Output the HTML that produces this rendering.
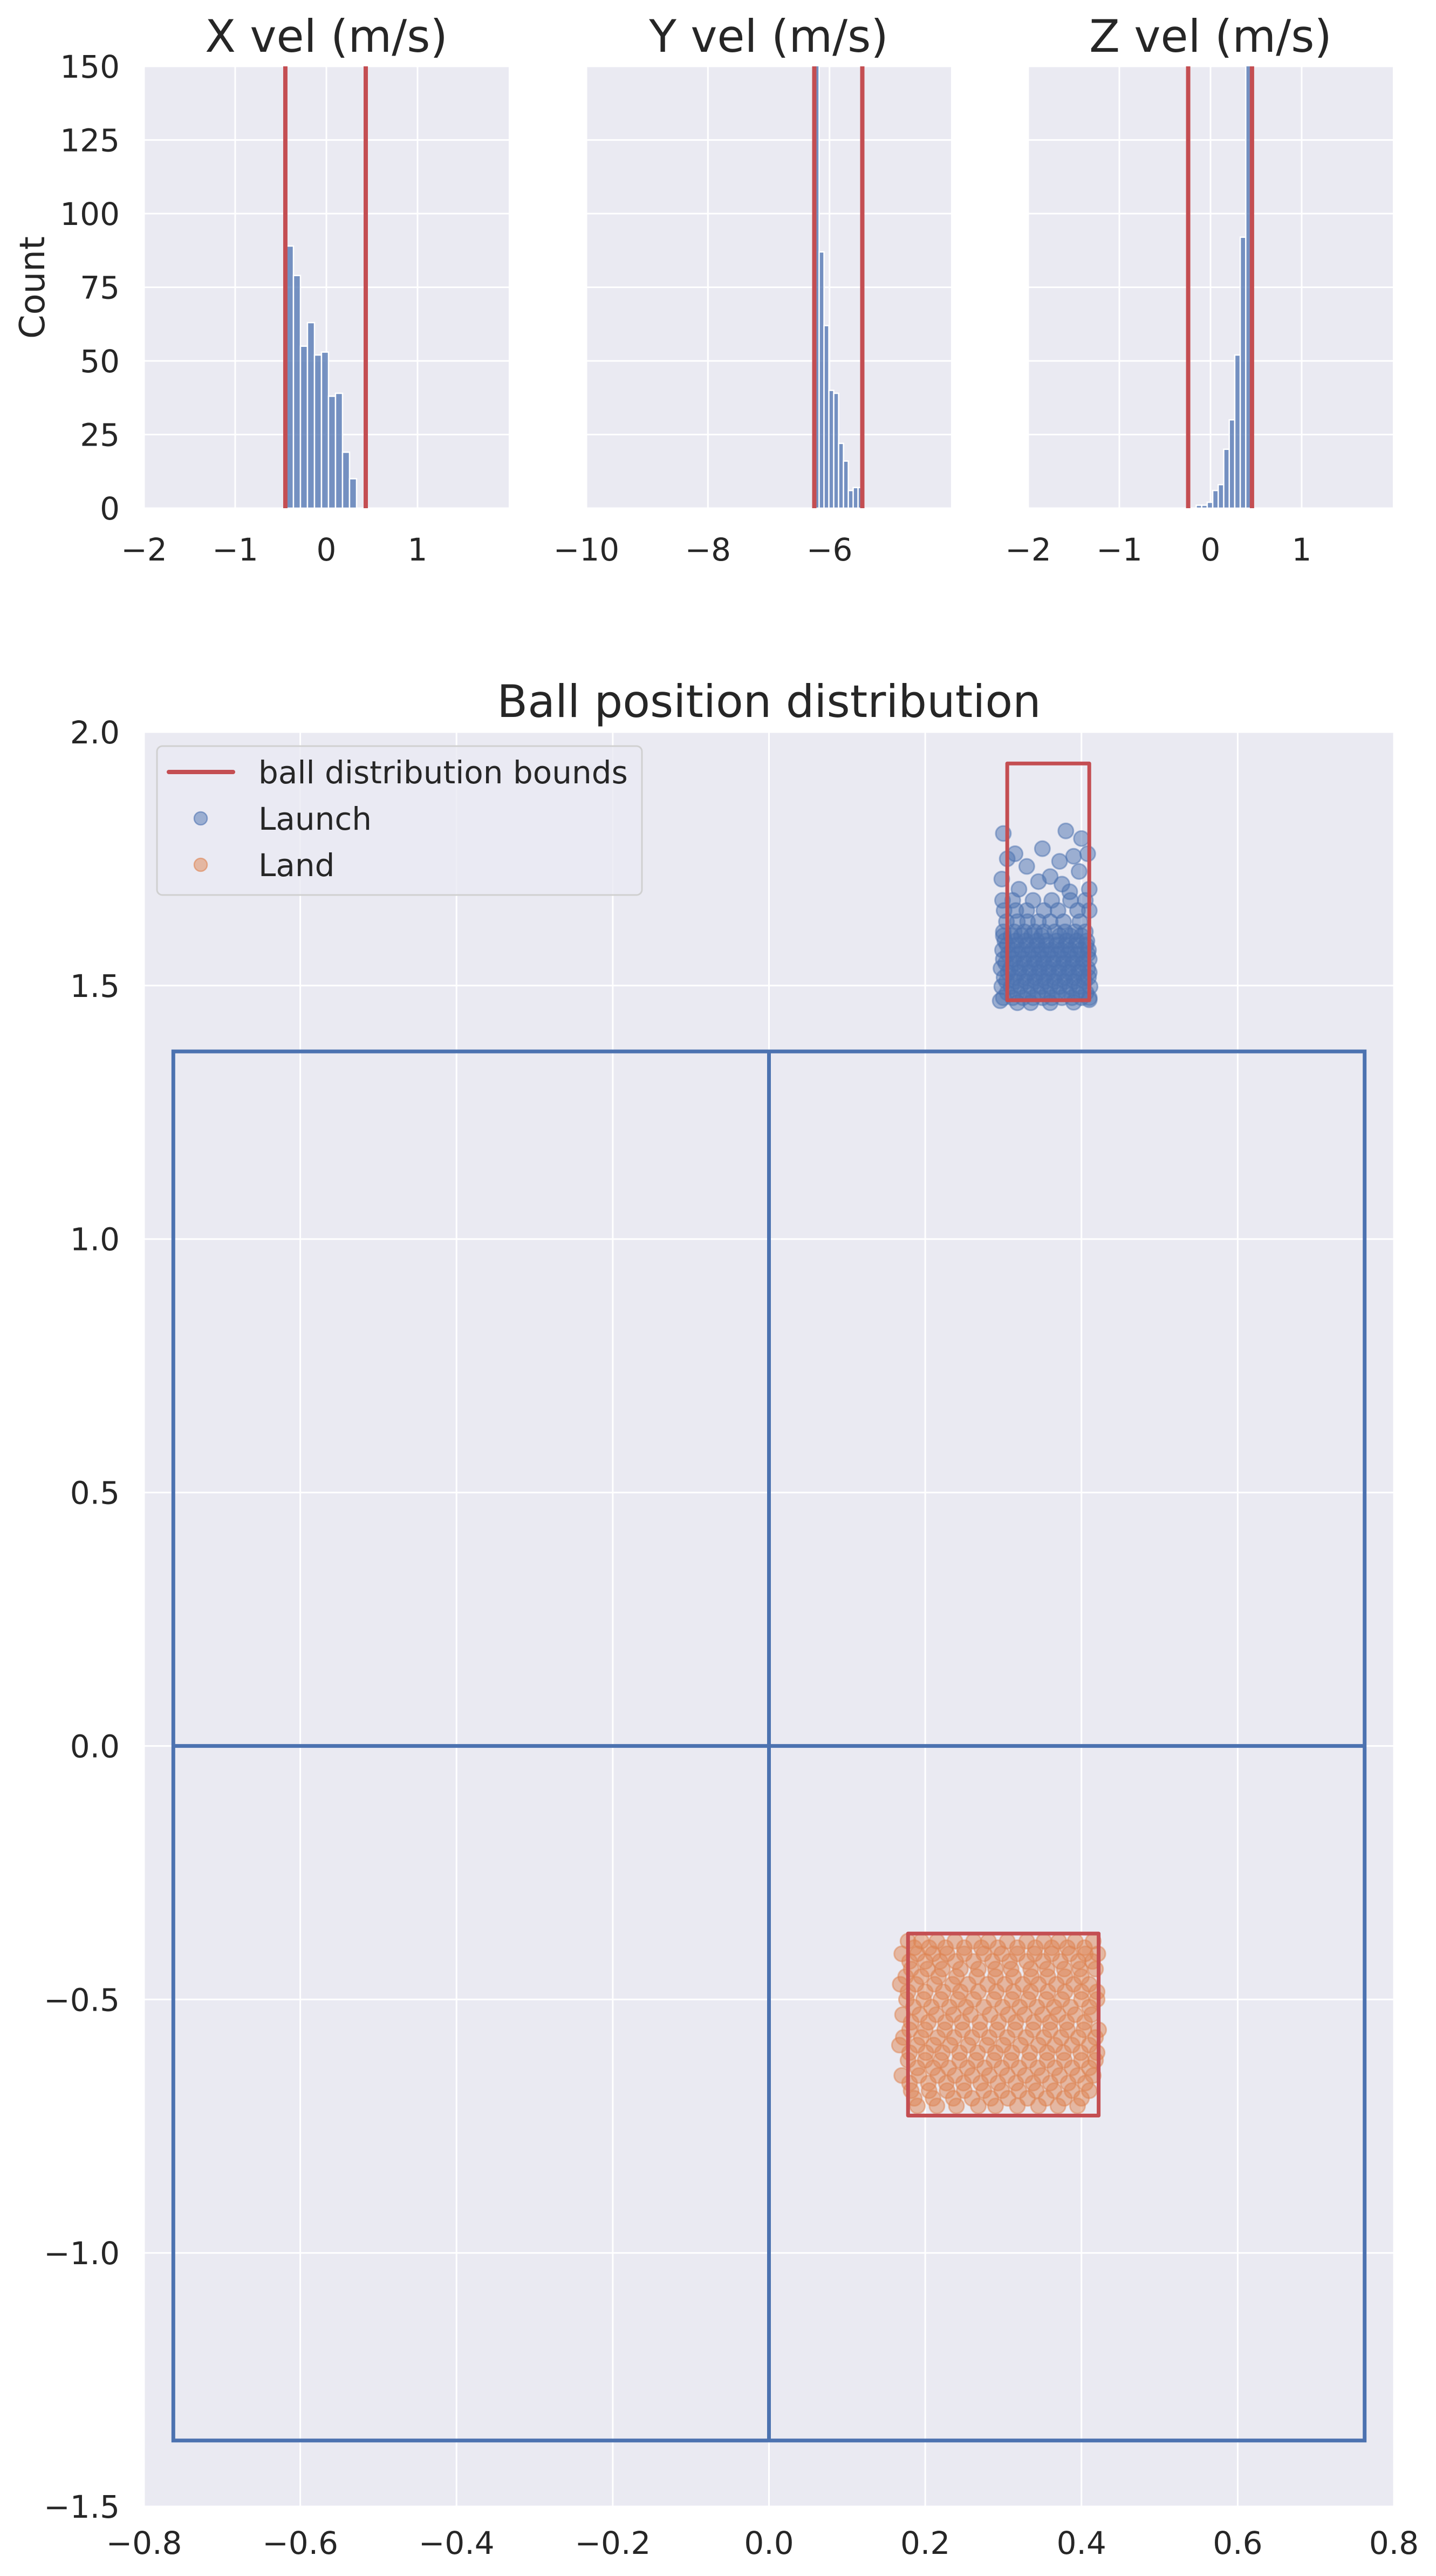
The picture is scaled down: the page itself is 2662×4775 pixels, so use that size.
<!DOCTYPE html>
<html><head><meta charset="utf-8"><style>
html,body{margin:0;padding:0;background:#fff;}
svg{display:block;font-family:"DejaVu Sans","Liberation Sans",sans-serif;}
</style></head><body>
<svg id="fig" width="2662" height="4775" viewBox="0 0 2662 4775" xmlns="http://www.w3.org/2000/svg"></svg>
<script>
// ---- histogram data ----
const xvelBinStart = -0.438, xvelBinWidth = 0.0769;
const xvelCounts = [89, 79, 55, 63, 52, 53, 38, 39, 19, 10];
const xvelBounds = [-0.45, 0.432];
const yvelBinStart = -6.25, yvelBinWidth = 0.08;
const yvelCounts = [155, 87, 62, 40, 39, 22, 16, 6, 7, 7];
const yvelBounds = [-6.25, -5.46];
const zvelBinStart = -0.157, zvelBinWidth = 0.0604;
const zvelCounts = [1, 1, 2, 6, 8, 20, 30, 52, 92, 160];
const zvelBounds = [-0.245, 0.455];
const histTitles = ["X vel (m/s)", "Y vel (m/s)", "Z vel (m/s)"];
const histXTicks = [[-2, -1, 0, 1], [-10, -8, -6], [-2, -1, 0, 1]];
const histYTicks = [0, 25, 50, 75, 100, 125, 150];
// ---- position data ----
const mainXTicks = [-0.8, -0.6, -0.4, -0.2, 0.0, 0.2, 0.4, 0.6, 0.8];
const mainYTicks = [-1.5, -1.0, -0.5, 0.0, 0.5, 1.0, 1.5, 2.0];
const tableHalfW = 0.7625, tableHalfL = 1.37;
const launchBounds = [0.305, 0.41, 1.471, 1.938];
const landBounds = [0.178, 0.422, -0.37, -0.729];
const launchRowY = [1.476, 1.486, 1.498, 1.508, 1.516, 1.526, 1.534, 1.544, 1.552, 1.562, 1.57, 1.58, 1.588, 1.598, 1.606, 1.626, 1.648, 1.668];
const launchRowX = [
 [0.300,0.312,0.325,0.338,0.350,0.362,0.375,0.388,0.400,0.410],
 [0.305,0.318,0.331,0.344,0.356,0.369,0.381,0.394,0.406],
 [0.298,0.310,0.322,0.335,0.348,0.360,0.372,0.385,0.397,0.411],
 [0.304,0.316,0.329,0.341,0.354,0.366,0.379,0.391,0.404],
 [0.301,0.314,0.327,0.340,0.352,0.365,0.378,0.390,0.403,0.409],
 [0.306,0.320,0.333,0.346,0.358,0.371,0.384,0.397,0.410],
 [0.297,0.309,0.321,0.334,0.346,0.358,0.371,0.383,0.396,0.408],
 [0.303,0.315,0.327,0.340,0.352,0.364,0.377,0.389,0.402],
 [0.300,0.313,0.326,0.339,0.351,0.364,0.377,0.389,0.402,0.410],
 [0.306,0.319,0.332,0.345,0.357,0.370,0.383,0.395,0.408],
 [0.299,0.311,0.324,0.337,0.349,0.361,0.374,0.386,0.399,0.409],
 [0.305,0.317,0.330,0.343,0.355,0.368,0.380,0.393,0.406],
 [0.302,0.316,0.329,0.343,0.355,0.368,0.381,0.394,0.407],
 [0.300,0.310,0.323,0.336,0.349,0.372,0.386,0.400],
 [0.300,0.314,0.327,0.340,0.352,0.366,0.379,0.392,0.405],
 [0.304,0.318,0.331,0.345,0.360,0.377,0.398],
 [0.301,0.316,0.330,0.352,0.370,0.395,0.41],
 [0.299,0.312,0.338,0.362,0.386,0.405]
];
const launchSparse = [[0.30,1.80],[0.38,1.805],[0.40,1.79],[0.305,1.75],[0.315,1.76],[0.35,1.77],[0.372,1.745],[0.39,1.755],[0.408,1.76],[0.298,1.71],[0.33,1.735],[0.36,1.715],[0.375,1.70],[0.397,1.725],[0.41,1.69],[0.32,1.69],[0.345,1.705],[0.385,1.685],[0.296,1.47],[0.36,1.466],[0.41,1.472],[0.335,1.466],[0.318,1.466],[0.39,1.467]];
const landRowY = [-0.385, -0.398, -0.41, -0.425, -0.44, -0.455, -0.47, -0.485, -0.50, -0.515, -0.53, -0.545, -0.56, -0.575, -0.59, -0.605, -0.62, -0.635, -0.65, -0.665, -0.68, -0.695, -0.71];
const landRowX = [
 [0.178,0.195,0.215,0.238,0.262,0.281,0.305,0.33,0.352,0.371,0.392,0.415],
 [0.186,0.205,0.226,0.25,0.272,0.293,0.318,0.341,0.362,0.382,0.404],
 [0.170,0.19,0.21,0.228,0.25,0.275,0.298,0.318,0.34,0.362,0.385,0.405,0.421],
 [0.18,0.2,0.219,0.239,0.262,0.286,0.308,0.33,0.351,0.373,0.396,0.414],
 [0.182,0.203,0.222,0.245,0.268,0.29,0.31,0.335,0.356,0.378,0.398,0.418],
 [0.175,0.195,0.217,0.24,0.266,0.29,0.313,0.336,0.357,0.379,0.4],
 [0.168,0.188,0.212,0.235,0.255,0.28,0.302,0.325,0.345,0.368,0.39,0.41],
 [0.178,0.2,0.223,0.245,0.268,0.291,0.313,0.335,0.357,0.379,0.4,0.42],
 [0.176,0.198,0.22,0.242,0.262,0.288,0.311,0.332,0.355,0.375,0.4,0.42],
 [0.185,0.208,0.231,0.252,0.275,0.299,0.321,0.343,0.365,0.386,0.41],
 [0.171,0.193,0.214,0.236,0.258,0.283,0.306,0.327,0.35,0.37,0.392,0.413],
 [0.182,0.204,0.226,0.247,0.27,0.294,0.316,0.339,0.36,0.381,0.404],
 [0.18,0.2,0.225,0.248,0.27,0.292,0.315,0.338,0.36,0.382,0.403,0.422],
 [0.172,0.195,0.216,0.237,0.26,0.282,0.305,0.329,0.352,0.374,0.396,0.418],
 [0.167,0.19,0.211,0.232,0.255,0.279,0.3,0.322,0.345,0.366,0.388,0.41],
 [0.18,0.201,0.222,0.244,0.267,0.29,0.311,0.334,0.356,0.377,0.399,0.42],
 [0.178,0.2,0.22,0.244,0.265,0.288,0.31,0.333,0.356,0.378,0.4,0.418],
 [0.19,0.21,0.23,0.254,0.276,0.298,0.32,0.344,0.366,0.388,0.41],
 [0.17,0.192,0.216,0.238,0.26,0.282,0.305,0.328,0.349,0.372,0.395,0.415],
 [0.18,0.204,0.227,0.249,0.271,0.293,0.316,0.338,0.36,0.383,0.405],
 [0.182,0.205,0.228,0.25,0.275,0.298,0.32,0.342,0.365,0.388,0.41],
 [0.186,0.21,0.236,0.26,0.284,0.306,0.331,0.355,0.378,0.4],
 [0.19,0.215,0.24,0.268,0.29,0.318,0.345,0.37,0.395]
];

const NS = "http://www.w3.org/2000/svg";
const svg = document.getElementById("fig");
function mk(tag, attrs, parent) {
  const e = document.createElementNS(NS, tag);
  for (const k in attrs) e.setAttribute(k, attrs[k]);
  (parent || svg).appendChild(e);
  return e;
}
function fmt(v, d) { const s = v.toFixed(d); return s.replace("-", "\u2212"); }

// ---- histograms ----
const panelLeft = [267, 1087, 1906], panelW = 676, hTop = 123, hBot = 942;
const xlims = [[-2, 2], [-10, -4.0], [-2, 2]];
const binStarts = [xvelBinStart, yvelBinStart, zvelBinStart];
const binWidths = [xvelBinWidth, yvelBinWidth, zvelBinWidth];
const countsAll = [xvelCounts, yvelCounts, zvelCounts];
const boundsAll = [xvelBounds, yvelBounds, zvelBounds];
const panelNames = ["x-vel", "y-vel", "z-vel"];
for (let p = 0; p < 3; p++) {
  const L = panelLeft[p];
  const sx = v => L + (v - xlims[p][0]) / (xlims[p][1] - xlims[p][0]) * panelW;
  const sy = c => hBot - c / 150 * (hBot - hTop);
  const g = mk("g", {});
  
  
  const bg = mk("rect", {x: L, y: hTop, width: panelW, height: hBot - hTop, fill: "#eaeaf2"}, g);
  
  
  const clipId = "clip" + p;
  const cp = mk("clipPath", {id: clipId}, g);
  mk("rect", {x: L, y: hTop, width: panelW, height: hBot - hTop}, cp);
  for (const t of histYTicks) {
    const gl = mk("line", {x1: L, x2: L + panelW, y1: sy(t), y2: sy(t), stroke: "#fff", "stroke-width": 3}, g);
    
    
    if (p === 0) {
      const tl = mk("text", {x: 222, y: sy(t) + 21, "text-anchor": "end", "font-size": 58, fill: "#262626"}, g);
      tl.textContent = String(t);
      
      
    }
  }
  for (const t of histXTicks[p]) {
    const gl = mk("line", {x1: sx(t), x2: sx(t), y1: hTop, y2: hBot, stroke: "#fff", "stroke-width": 3}, g);
    
    
    const tl = mk("text", {x: sx(t), y: 1039, "text-anchor": "middle", "font-size": 58, fill: "#262626"}, g);
    tl.textContent = fmt(t, 0);
    
    
  }
  const bars = mk("g", {"clip-path": "url(#" + clipId + ")"}, g);
  const cts = countsAll[p];
  for (let i = 0; i < cts.length; i++) {
    const x0 = binStarts[p] + i * binWidths[p];
    const b = mk("rect", {x: sx(x0), y: sy(cts[i]), width: sx(x0 + binWidths[p]) - sx(x0), height: hBot - sy(cts[i]),
      fill: "#4c72b0", "fill-opacity": 0.75, stroke: "#fff", "stroke-width": 2.5}, bars);
    
    
  }
  for (const bv of boundsAll[p]) {
    const rl = mk("line", {x1: sx(bv), x2: sx(bv), y1: hTop, y2: hBot, stroke: "#c44e52", "stroke-width": 8}, g);
    
    
  }
  const tt = mk("text", {x: L + panelW / 2, y: 96, "text-anchor": "middle", "font-size": 83, fill: "#262626"}, g);
  tt.textContent = histTitles[p];
  
  
}
const cl = mk("text", {x: 0, y: 0, "text-anchor": "middle", "font-size": 64, fill: "#262626", transform: "translate(82,533) rotate(-90)"});
cl.textContent = "Count";



// ---- main scatter ----
const mL = 267, mR = 2584, mT = 1357, mB = 4646;
const mx = v => mL + (v + 0.8) / 1.6 * (mR - mL);
const my = v => mT + (2.0 - v) / 3.5 * (mB - mT);
const mg = mk("g", {});


const mbg = mk("rect", {x: mL, y: mT, width: mR - mL, height: mB - mT, fill: "#eaeaf2"}, mg);


for (const t of mainXTicks) {
  const gl = mk("line", {x1: mx(t), x2: mx(t), y1: mT, y2: mB, stroke: "#fff", "stroke-width": 3}, mg);
  
  
  const tl = mk("text", {x: mx(t), y: 4734, "text-anchor": "middle", "font-size": 58, fill: "#262626"}, mg);
  tl.textContent = fmt(t, 1);
  
  
}
for (const t of mainYTicks) {
  const gl = mk("line", {x1: mL, x2: mR, y1: my(t), y2: my(t), stroke: "#fff", "stroke-width": 3}, mg);
  
  
  const tl = mk("text", {x: 222, y: my(t) + 21, "text-anchor": "end", "font-size": 58, fill: "#262626"}, mg);
  tl.textContent = fmt(t, 1);
  
  
}
// table outline
const tbl = mk("g", {stroke: "#4c72b0", "stroke-width": 7, fill: "none"}, mg);


mk("rect", {x: mx(-tableHalfW), y: my(tableHalfL), width: mx(tableHalfW) - mx(-tableHalfW), height: my(-tableHalfL) - my(tableHalfL)}, tbl);
mk("line", {x1: mx(0), x2: mx(0), y1: my(tableHalfL), y2: my(-tableHalfL)}, tbl);
mk("line", {x1: mx(-tableHalfW), x2: mx(tableHalfW), y1: my(0), y2: my(0)}, tbl);
// points
function dot(x, y, col, parent, name) {
  const c = mk("circle", {cx: mx(x), cy: my(y), r: 14, fill: col, "fill-opacity": 0.5, stroke: col, "stroke-opacity": 0.5, "stroke-width": 3}, parent);
  
  
}
const launchG = mk("g", {}, mg);


for (let r = 0; r < launchRowY.length; r++) for (const x of launchRowX[r]) dot(x, launchRowY[r], "#4c72b0", launchG, 'launch-point');
for (const [x, y] of launchSparse) dot(x, y, "#4c72b0", launchG, 'launch-point');
const landG = mk("g", {}, mg);


for (let r = 0; r < landRowY.length; r++) for (const x of landRowX[r]) dot(x, landRowY[r], "#dd8452", landG, 'land-point');
// bounds
function boundBox(b, name) {
  const r = mk("rect", {x: mx(b[0]), y: my(Math.max(b[2], b[3])), width: mx(b[1]) - mx(b[0]), height: Math.abs(my(b[3]) - my(b[2])),
    fill: "none", stroke: "#c44e52", "stroke-width": 7, "stroke-linejoin": "round"}, mg);
  
  
}
boundBox(launchBounds, 'launch-bounds-box');
boundBox(landBounds, 'land-bounds-box');
const mt = mk("text", {x: (mL + mR) / 2, y: 1329, "text-anchor": "middle", "font-size": 83, fill: "#262626"});
mt.textContent = "Ball position distribution";


// legend
const lg = mk("g", {});


mk("rect", {x: 291, y: 1383, width: 899, height: 276, rx: 10, fill: "#eaeaf2", "fill-opacity": 0.8, stroke: "#d0d0d0", "stroke-width": 3}, lg);
const le1 = mk("line", {x1: 313, x2: 432, y1: 1431, y2: 1431, stroke: "#c44e52", "stroke-width": 8, "stroke-linecap": "round"}, lg);


const leg = [["ball distribution bounds", 1431], ["Launch", 1517], ["Land", 1603]];
const legCols = [null, "#4c72b0", "#dd8452"];
for (let i = 0; i < 3; i++) {
  if (legCols[i]) {
    const c = mk("circle", {cx: 372, cy: leg[i][1], r: 12, fill: legCols[i], "fill-opacity": 0.5, stroke: legCols[i], "stroke-opacity": 0.6, "stroke-width": 2.5}, lg);
    
    
  }
  const t = mk("text", {x: 479, y: leg[i][1] + 21, "font-size": 58, fill: "#262626"}, lg);
  t.textContent = leg[i][0];
  
  
}
</script>
</body></html>
